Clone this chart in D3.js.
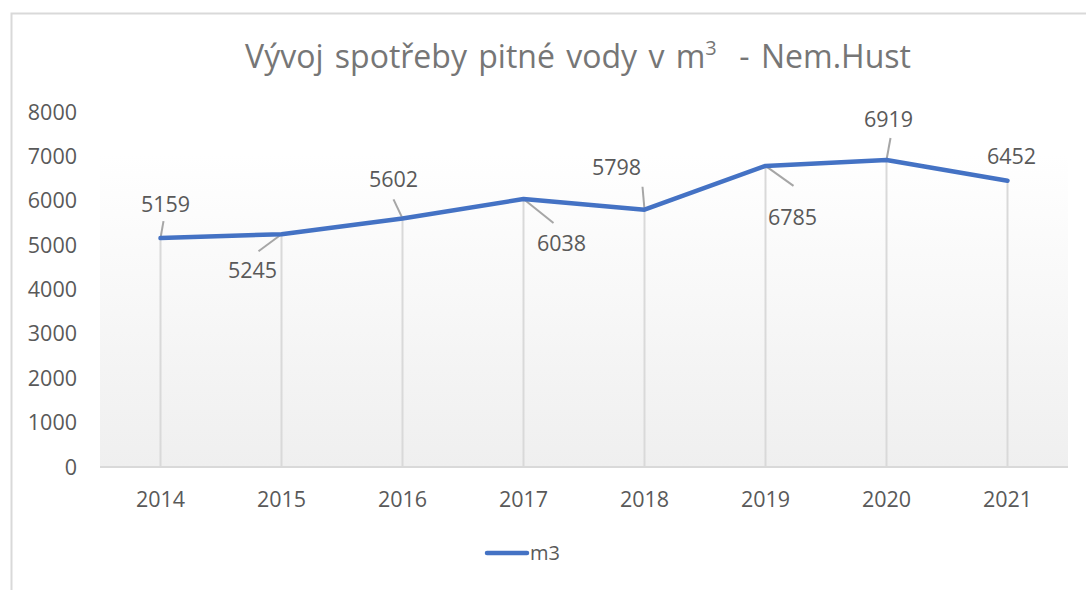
<!DOCTYPE html>
<html>
<head>
<meta charset="utf-8">
<script src="https://cdn.jsdelivr.net/npm/d3@7"></script>
<style>
  html, body { margin: 0; padding: 0; background: #fff; }
  svg { display: block; font-family: 'Open Sans', sans-serif; }
  .tick-label { fill: #595959; font-size: 21.5px; }
  .data-label { fill: #595959; font-size: 21.5px; }
</style>
</head>
<body>
<svg id="chart" width="1086" height="590"></svg>
<script>
// Chart data
const years = ['2014', '2015', '2016', '2017', '2018', '2019', '2020', '2021'];
const consumption = [5159, 5245, 5602, 6038, 5798, 6785, 6919, 6452];
const yTicks = [0, 1000, 2000, 3000, 4000, 5000, 6000, 7000, 8000];
const seriesName = 'm3';

// Label placement, as pixel offsets from each point (label centre / leader start).
const labelOffsets = [[5, -34], [-29, 36], [-9, -39], [38, 44], [-28, -42], [27, 52], [2, -40], [4, -24]];
const leaderOffsets = [[3, -17], [-23, 17], [-9, -19], [30, 24], [-2, -23], [28, 20], [4, -22], null];

const chart = d3.select('#chart');
const blue = '#4472c4';

// outer frame
chart.append('rect')
  .attr('x', 11.5).attr('y', 13.5)
  .attr('width', 1100).attr('height', 600)
  .attr('fill', 'none').attr('stroke', '#d9d9d9').attr('stroke-width', 2);

const x = d3.scaleBand().domain(years).range([100, 1068]);
const y = d3.scaleLinear().domain([0, 8000]).range([467, 112]);
const cx = d => x(d) + x.bandwidth() / 2;

// plot area gradient
const grad = chart.append('defs').append('linearGradient')
  .attr('id', 'plotFill').attr('x1', 0).attr('y1', 0).attr('x2', 0).attr('y2', 1);
grad.append('stop').attr('offset', '0%').attr('stop-color', '#ffffff');
grad.append('stop').attr('offset', '100%').attr('stop-color', '#efefef');

chart.append('rect')
  .attr('x', 100).attr('y', y(7000) - 2)
  .attr('width', 968).attr('height', y(0) - y(7000) + 2)
  .attr('fill', 'url(#plotFill)');

// title
const title = chart.append('text')
  .attr('x', 578).attr('y', 68)
  .attr('text-anchor', 'middle')
  .attr('fill', '#767676')
  .style('font-size', '32px')
  .style('word-spacing', '3px');
title.append('tspan').text('Vývoj spotřeby pitné vody v m');
title.append('tspan').attr('dy', -13).style('font-size', '20px').text('3');
title.append('tspan').attr('dy', 13).text('\u00a0\u00a0- Nem.Hust');

// y axis labels
chart.selectAll('.ytick')
  .data(yTicks)
  .join('text')
  .attr('class', 'tick-label')
  .attr('x', 77)
  .attr('y', d => y(d))
  .attr('dy', '0.35em')
  .attr('text-anchor', 'end')
  .text(d => d);

// drop lines
chart.selectAll('.drop')
  .data(years)
  .join('line')
  .attr('x1', d => cx(d)).attr('x2', d => cx(d))
  .attr('y1', (d, i) => y(consumption[i])).attr('y2', y(0))
  .attr('stroke', '#d9d9d9').attr('stroke-width', 2);

// x axis line
chart.append('line')
  .attr('x1', 100).attr('x2', 1068)
  .attr('y1', y(0)).attr('y2', y(0))
  .attr('stroke', '#d9d9d9').attr('stroke-width', 2);

// x axis labels
chart.selectAll('.xtick')
  .data(years)
  .join('text')
  .attr('class', 'tick-label')
  .attr('x', d => cx(d))
  .attr('y', 499)
  .attr('dy', '0.35em')
  .attr('text-anchor', 'middle')
  .text(d => d);

// leader lines
chart.selectAll('.leader')
  .data(years.filter((d, i) => leaderOffsets[i]))
  .join('line')
  .attr('x1', d => cx(d) + leaderOffsets[years.indexOf(d)][0])
  .attr('y1', d => y(consumption[years.indexOf(d)]) + leaderOffsets[years.indexOf(d)][1])
  .attr('x2', d => cx(d))
  .attr('y2', d => y(consumption[years.indexOf(d)]))
  .attr('stroke', '#a6a6a6').attr('stroke-width', 2);

// series line
const line = d3.line().x((d, i) => cx(years[i])).y(d => y(d));
chart.append('path')
  .attr('d', line(consumption))
  .attr('fill', 'none')
  .attr('stroke', blue)
  .attr('stroke-width', 4.5)
  .attr('stroke-linejoin', 'round')
  .attr('stroke-linecap', 'round');

// data labels
chart.selectAll('.data-label')
  .data(consumption)
  .join('text')
  .attr('class', 'data-label')
  .attr('x', (d, i) => cx(years[i]) + labelOffsets[i][0])
  .attr('y', (d, i) => y(d) + labelOffsets[i][1])
  .attr('dy', '0.35em')
  .attr('text-anchor', 'middle')
  .text(d => d);

// legend
chart.append('line')
  .attr('x1', 487).attr('x2', 527)
  .attr('y1', 553).attr('y2', 553)
  .attr('stroke', blue).attr('stroke-width', 4.5)
  .attr('stroke-linecap', 'round');
chart.append('text')
  .attr('class', 'tick-label')
  .attr('x', 530).attr('y', 553)
  .attr('dy', '0.35em')
  .style('font-size', '20px')
  .text(seriesName);
</script>
</body>
</html>
